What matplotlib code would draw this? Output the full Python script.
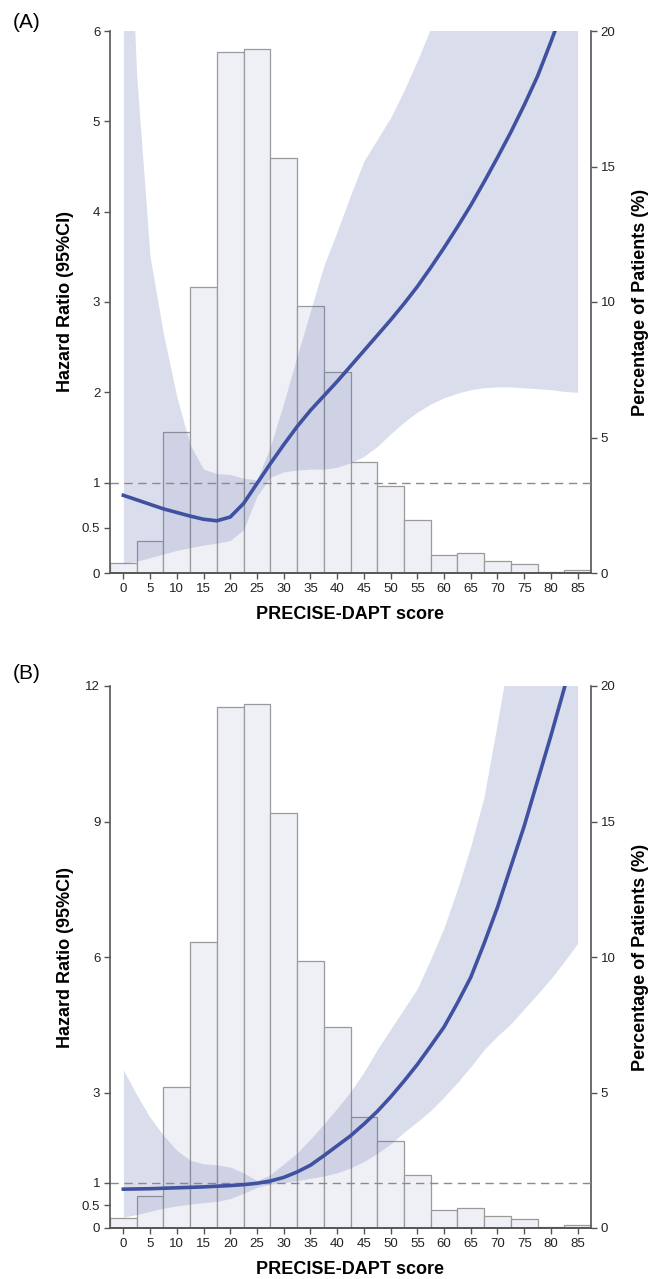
import numpy as np
import matplotlib.pyplot as plt

plt.rcParams['font.family'] = ['Liberation Sans', 'DejaVu Sans']

# histogram: percentage of patients per 5-point PRECISE-DAPT bin
bin_centers = np.arange(0, 90, 5)
pct_patients = [0.36, 1.17, 5.21, 10.54, 19.22, 19.32, 15.33, 9.85, 7.43,
                4.11, 3.22, 1.94, 0.68, 0.74, 0.43, 0.32, 0.05, 0.11]

# spline fit, read every 2.5 points of score
score = np.arange(0, 87.5, 2.5)

# panel A
hr_a = [0.86, 0.81, 0.76, 0.71, 0.67, 0.63, 0.595, 0.578, 0.62, 0.77, 0.99, 1.21,
        1.42, 1.62, 1.80, 1.96, 2.12, 2.29, 2.46, 2.63, 2.80, 2.98, 3.17, 3.38,
        3.60, 3.83, 4.07, 4.33, 4.60, 4.88, 5.18, 5.50, 5.88, 6.28, 6.70]
lo_a = [0.10, 0.13, 0.17, 0.21, 0.25, 0.28, 0.31, 0.33, 0.36, 0.48, 0.85, 1.06,
        1.12, 1.14, 1.15, 1.15, 1.17, 1.22, 1.29, 1.40, 1.54, 1.67, 1.78, 1.87,
        1.94, 1.99, 2.03, 2.05, 2.06, 2.06, 2.05, 2.04, 2.03, 2.01, 2.00]
hi_a = [9.0, 5.5, 3.5, 2.65, 1.95, 1.42, 1.15, 1.10, 1.09, 1.05, 1.03, 1.40,
        1.88, 2.40, 2.90, 3.40, 3.78, 4.18, 4.56, 4.80, 5.04, 5.34, 5.67, 6.03,
        6.40, 6.80, 7.20, 7.60, 8.00, 8.40, 8.80, 9.20, 9.60, 10.0, 10.4]

# panel B
hr_b = [0.86, 0.865, 0.87, 0.88, 0.89, 0.90, 0.91, 0.925, 0.94, 0.96, 0.99, 1.04,
        1.12, 1.24, 1.39, 1.60, 1.82, 2.04, 2.30, 2.58, 2.90, 3.25, 3.62, 4.03,
        4.45, 4.98, 5.55, 6.30, 7.10, 8.00, 8.90, 9.90, 10.90, 11.95, 13.10]
lo_b = [0.24, 0.30, 0.37, 0.44, 0.49, 0.53, 0.56, 0.59, 0.65, 0.77, 0.90, 0.97,
        1.00, 1.05, 1.10, 1.15, 1.22, 1.33, 1.47, 1.65, 1.86, 2.12, 2.35, 2.60,
        2.90, 3.22, 3.57, 3.95, 4.25, 4.52, 4.85, 5.18, 5.52, 5.90, 6.30]
hi_b = [3.50, 2.95, 2.45, 2.05, 1.72, 1.50, 1.42, 1.40, 1.35, 1.22, 1.05, 1.18,
        1.42, 1.66, 1.97, 2.30, 2.65, 3.02, 3.45, 3.95, 4.40, 4.85, 5.30, 5.95,
        6.65, 7.50, 8.45, 9.55, 11.2, 12.9, 14.5, 16.5, 18.5, 20.5, 23.0]

SPINE = '#555555'
LINE = '#3f51a0'


def draw_panel(fig, rect, tag, tag_y, hr, lo, hi, ymax, yticks, yticklabels):
    ax = fig.add_axes(rect)
    ax2 = ax.twinx()
    ax.set_zorder(ax2.get_zorder() + 1)
    ax.patch.set_visible(False)

    ax2.bar(bin_centers, pct_patients, width=5, color='#eff0f6',
            edgecolor='#9a9a9a', linewidth=0.9)
    ax.fill_between(score, lo, hi, color='#4a5ba0', alpha=0.2, linewidth=0)
    ax.axhline(1, color='#8a8a8a', linestyle=(0, (6, 4)), linewidth=1)
    ax.plot(score, hr, color=LINE, linewidth=2.6)

    ax.set_xlim(-2.5, 87.5)
    ax.set_ylim(0, ymax)
    ax2.set_ylim(0, 20)
    ax.set_xticks(bin_centers)
    ax.set_yticks(yticks, yticklabels)
    ax2.set_yticks([0, 5, 10, 15, 20])

    for a in (ax, ax2):
        a.spines['top'].set_visible(False)
        for s in a.spines.values():
            s.set_color(SPINE)
            s.set_linewidth(1.2)
        a.tick_params(direction='out', length=4.5, width=1, color=SPINE,
                      labelsize=9.5, labelcolor='#222222', pad=2.5)
    ax.spines['right'].set_visible(False)
    ax2.spines['left'].set_visible(False)

    ax.set_xlabel('PRECISE-DAPT score', fontsize=13, fontweight='bold', labelpad=8)
    ax.set_ylabel('Hazard Ratio (95%CI)', fontsize=13, fontweight='bold', labelpad=6)
    ax2.set_ylabel('Percentage of Patients (%)', fontsize=13, fontweight='bold',
                   rotation=90, labelpad=12)
    fig.text(13 / 651, tag_y, tag, fontsize=15, ha='left', va='center')


fig = plt.figure(figsize=(6.51, 12.79), dpi=100)
draw_panel(fig, [110 / 651, 1 - 573 / 1279, 481 / 651, 542 / 1279], '(A)', 1 - 22 / 1279,
           hr_a, lo_a, hi_a, 6, [0, 0.5, 1, 2, 3, 4, 5, 6],
           ['0', '0.5', '1', '2', '3', '4', '5', '6'])
draw_panel(fig, [110 / 651, 1 - 1228 / 1279, 481 / 651, 542 / 1279], '(B)', 1 - 673 / 1279,
           hr_b, lo_b, hi_b, 12, [0, 0.5, 1, 3, 6, 9, 12],
           ['0', '0.5', '1', '3', '6', '9', '12'])

fig.savefig('out.png', dpi=100)
